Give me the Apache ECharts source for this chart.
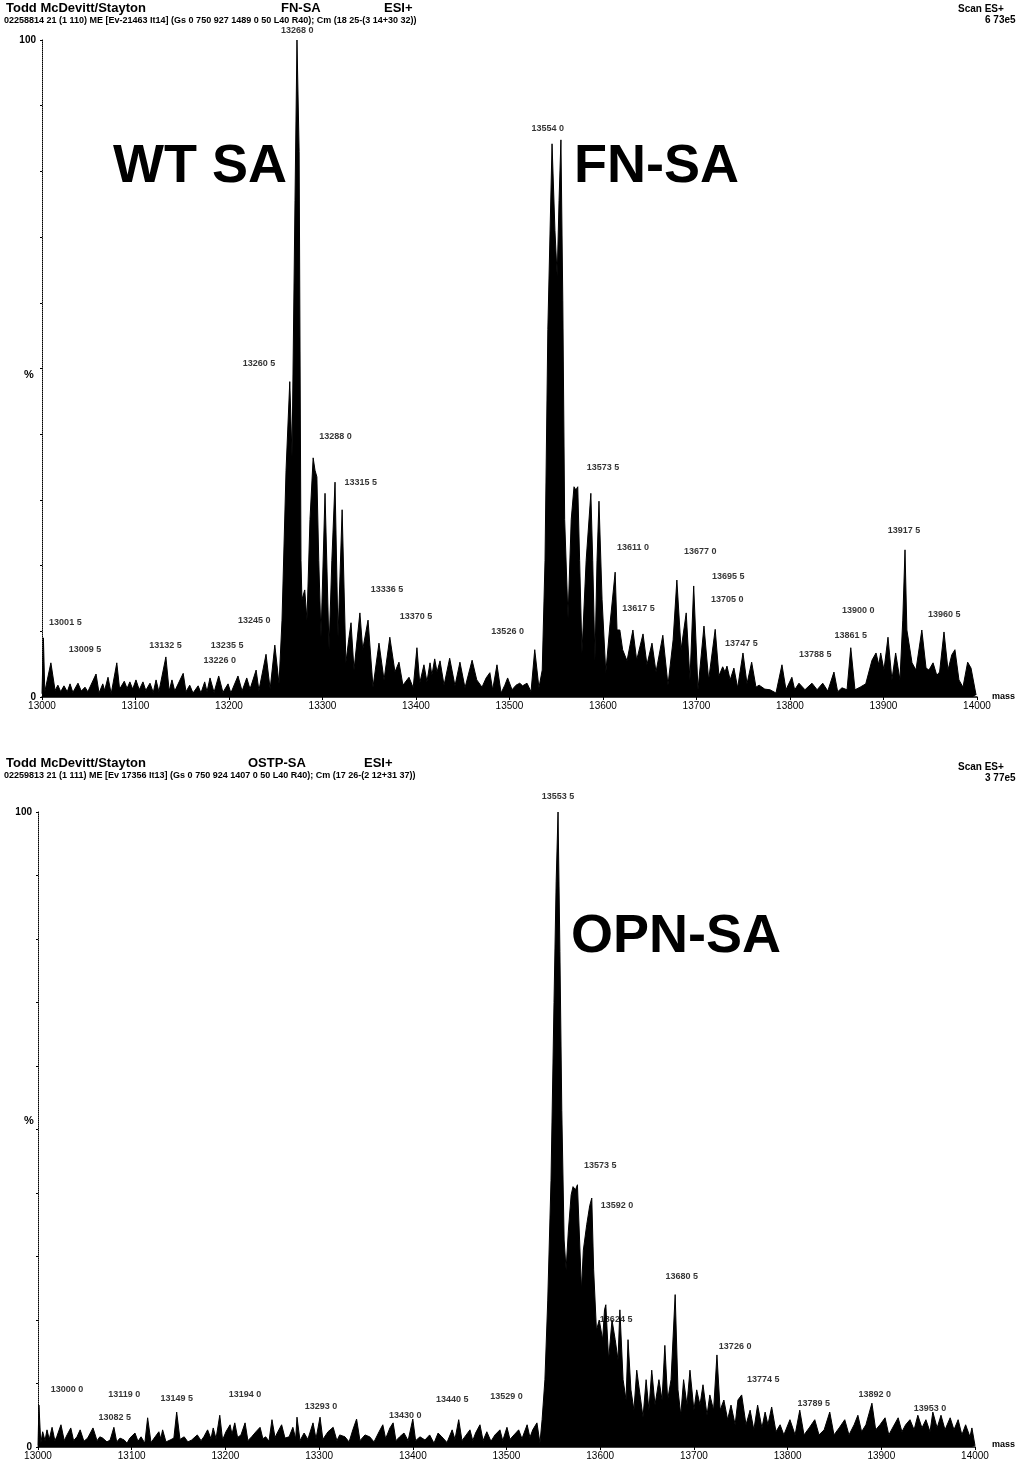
<!DOCTYPE html>
<html>
<head>
<meta charset="utf-8">
<script src="https://cdn.jsdelivr.net/npm/echarts@6/dist/echarts.min.js"></script>
<style>
  html, body { margin: 0; padding: 0; background: #fff; }
  #chart { width: 1026px; height: 1466px; }
</style>
</head>
<body>
<div id="chart"></div>
<script>
// x axis ticks (mass)
const massTicks = [13000, 13100, 13200, 13300, 13400, 13500, 13600, 13700, 13800, 13900, 14000];

// top spectrum: WT SA / FN-SA (mass, % intensity)
const topMass = [
  13000, 13001.5, 13003, 13009.5, 13014, 13017, 13020, 13023.5, 13027, 13030, 13033, 13038.5, 13042, 13046, 13049,
  13057.8, 13061, 13065, 13067, 13070.6, 13074, 13080, 13083, 13088, 13091, 13094, 13097, 13100.5, 13104, 13108,
  13111, 13115.5, 13119, 13122, 13125, 13132.5, 13136, 13139, 13142, 13151, 13154, 13158, 13161.5, 13167, 13170,
  13174, 13176.5, 13179.7, 13184, 13189, 13193.5, 13199, 13202, 13209.6, 13214, 13219, 13222.5, 13229, 13232,
  13239.6, 13244, 13249, 13253.5,
  13256.7, 13261, 13265, 13267.4, 13270.6, 13272.7, 13275, 13277, 13278, 13281, 13283.4, 13286.6, 13290, 13292,
  13294, 13296, 13298.4, 13302.7, 13307, 13310, 13313.4, 13316.6, 13321, 13325, 13328, 13330.5, 13333.7, 13337,
  13340, 13343, 13348.7, 13354, 13360.4, 13365.8, 13372, 13377.5, 13381.8, 13386, 13392.5, 13397, 13401, 13404,
  13408.5, 13411.7, 13415, 13417, 13420, 13422.5, 13425.7, 13430, 13436, 13441.7, 13447, 13452.4, 13460, 13465,
  13470.6, 13475, 13479, 13482, 13486.6, 13491, 13495, 13498, 13502.7, 13507, 13511, 13514, 13518.7, 13523, 13527,
  13531.5, 13535,
  13538, 13541, 13545.5, 13548.6, 13551, 13553, 13555, 13557, 13559, 13562.6, 13566, 13569, 13571, 13573, 13575,
  13577.5, 13582, 13587, 13589, 13591.4, 13593.6, 13595.7, 13599, 13603, 13607.5, 13613, 13615, 13618, 13621,
  13625.7, 13632, 13636, 13642.8, 13647, 13652.4, 13656.7, 13664, 13669.5, 13675, 13679, 13683.5, 13689, 13693,
  13697, 13701.6, 13708, 13713, 13720, 13724, 13728, 13730.5, 13732.6, 13736, 13740, 13744, 13749.7, 13754, 13759,
  13763.6, 13767, 13773, 13778.6, 13785, 13791.4, 13795.7, 13802, 13805, 13809.6, 13816, 13823.5, 13829, 13835,
  13840.4, 13847, 13851, 13855.6, 13861, 13865, 13869.5, 13875, 13881, 13887.7, 13892, 13895, 13897, 13900.5,
  13904.8, 13909, 13913, 13917.6, 13920.6, 13923, 13925, 13930.5, 13934.7, 13941, 13945.5, 13948.6, 13953, 13957,
  13960, 13964.7, 13969, 13973, 13976.4, 13980.7, 13985, 13990, 13993.6, 13995.7, 13999
];
const topPct = [
  0.5, 9.0, 0.8, 5.2, 1.0, 1.8, 0.8, 1.7, 0.8, 2.0, 0.7, 2.1, 0.9, 1.5, 0.8,
  3.5, 0.6, 2.0, 1.0, 3.0, 0.5, 5.2, 1.2, 2.4, 1.3, 2.3, 1.2, 2.6, 1.1, 2.3,
  1.0, 2.1, 0.7, 2.6, 0.8, 6.1, 0.9, 2.6, 0.9, 3.6, 0.8, 1.8, 0.6, 1.7, 0.6,
  2.3, 0.8, 2.9, 0.7, 3.2, 0.7, 2.0, 0.6, 3.2, 0.9, 2.9, 1.2, 4.1, 1.0,
  6.5, 1.2, 7.9, 2.0,
  11.7, 34.5, 48, 36.5, 75.6, 100, 83, 20.8, 14.8, 16.3, 11.7, 27, 36.4, 34.5,
  33.5, 20.8, 9.1, 31, 7.2, 20.8, 32.7, 9.1, 28.5, 5.2, 8.7, 11.3, 4.1, 8.7,
  12.8, 7.2, 11.7, 1.5, 8.2, 2.6, 9.1, 3.8, 5.3, 1.8, 3.0, 1.4, 7.5, 2.1,
  4.9, 2.3, 5.2, 3.3, 5.8, 3.8, 5.5, 1.8, 5.9, 1.7, 5.3, 1.4, 5.6, 2.6,
  1.5, 2.9, 3.7, 1.1, 4.9, 0.6, 1.8, 2.9, 1.1, 1.8, 2.1, 1.7, 2.1, 0.8, 7.2,
  1.4, 4.1,
  20.8, 55.9, 84.2, 71, 64, 75.6, 84.8, 60.4, 27, 12, 27, 32, 31.5, 32, 20.8,
  6.7, 20.8, 31, 20.8, 5.5, 20.8, 29.8, 14.8, 3.7, 11.1, 19, 10.2, 10.2, 7.2,
  5.5, 10.2, 5.6, 9.6, 4.9, 8.2, 3.8, 9.4, 1.8, 8.7, 17.8, 7.2, 12.8, 2.6,
  16.9, 1.1, 10.8, 2.6, 10.3, 3.2, 4.6, 3.8, 4.7, 2.6, 4.4, 1.4, 6.7, 2.0, 5.3,
  1.5, 1.8, 1.2, 1.1, 0.6, 4.9, 1.1, 3.0, 1.1, 2.1, 1.1, 2.1, 1.1, 2.1,
  0.9, 3.8, 0.8, 1.4, 1.1, 7.5, 1.1, 1.5, 2.0, 5.6, 6.7, 4.9, 6.7, 4.1,
  9.1, 2.6, 6.7, 2.6, 11.7, 22.4, 10.2, 5.2, 4.1, 10.2, 4.4, 4.1, 5.2, 3.3,
  3.8, 9.9, 4.1, 6.4, 7.2, 2.6, 1.5, 5.3, 4.4, 4.6, 0.3
];

// bottom spectrum: OPN-SA (mass, % intensity)
const botMass = [
  13000, 13001, 13003, 13005, 13007.5, 13009.6, 13012, 13015, 13018, 13020, 13024.5, 13028, 13031, 13035, 13038,
  13041.6, 13045, 13049, 13053, 13058.7, 13063, 13066, 13069, 13073.6, 13077, 13081, 13084, 13087.5, 13092, 13095,
  13098, 13103.5, 13106.7, 13110, 13114, 13117, 13120.6, 13125, 13129, 13131, 13133, 13136.6, 13141, 13145, 13148,
  13151.5, 13156, 13160, 13164, 13170, 13174, 13177, 13181, 13184.6, 13187, 13190, 13194, 13197, 13200.6, 13205,
  13207, 13210, 13213, 13216.6, 13221, 13224, 13228, 13232.6, 13237, 13240, 13243, 13246.5, 13249.7, 13253, 13256,
  13260, 13263.6, 13268, 13272, 13275, 13276.4, 13279.6, 13284, 13288, 13293.5, 13296.7, 13301, 13304, 13309.5,
  13315, 13319, 13322, 13327.6, 13332, 13336, 13340, 13343.6, 13349, 13354, 13358.6, 13364, 13368, 13371, 13375.6,
  13379, 13382, 13386, 13390.6, 13395, 13400, 13403, 13407.7, 13413, 13418, 13422.6, 13427, 13431, 13436.5, 13442,
  13445, 13449, 13452.5, 13457, 13461, 13464, 13467, 13471.7, 13475, 13479, 13483.4, 13487.7, 13493, 13496, 13500.5,
  13503.7, 13508, 13513, 13516.5, 13522, 13525, 13528, 13532.5, 13535.7,
  13538, 13541, 13544, 13547.5, 13550.7, 13553, 13555, 13557, 13559, 13561.5, 13563.6, 13566, 13569, 13571, 13573.6,
  13575.7, 13578, 13580, 13582, 13585.6, 13588.8, 13591, 13593, 13596, 13599, 13602.6, 13604.6, 13606, 13609,
  13612.6, 13616, 13619, 13621, 13624.4, 13627.6, 13629.7, 13632.8, 13636, 13639, 13642.5, 13645.7, 13649, 13652,
  13655, 13658.5, 13662.7, 13666, 13669, 13672, 13675.6, 13680, 13683, 13686, 13689, 13692.6, 13695.8, 13700,
  13703, 13706.5, 13709.7, 13714, 13717, 13721, 13724.6, 13728, 13732, 13736, 13739.6, 13744, 13747, 13751,
  13755.6, 13760, 13764, 13768, 13772.6, 13776, 13779, 13783, 13787.6, 13792, 13796, 13802.5, 13808, 13813,
  13817.5, 13823, 13829, 13833.5, 13839, 13845, 13849.5, 13855, 13861, 13865.5, 13871, 13875, 13879, 13883.6,
  13890, 13894, 13898.6, 13904, 13908, 13912, 13918, 13922, 13926, 13930.6, 13935, 13939, 13943.4, 13947.6,
  13952, 13955, 13959.6, 13963.7, 13968, 13973.5, 13977.6, 13982, 13986, 13990, 13994.6, 13996.7, 14000
];
const botPct = [
  0.2, 6.6, 0.6, 2.4, 1.0, 2.7, 1.2, 3.1, 1.0, 1.6, 3.5, 1.0, 1.9, 3.0, 1.0,
  1.6, 2.7, 0.9, 1.4, 3.0, 1.0, 1.6, 1.4, 0.8, 1.1, 3.1, 0.8, 1.4, 1.1, 0.6,
  1.4, 2.2, 0.9, 1.6, 0.6, 4.6, 0.7, 1.6, 2.4, 1.3, 2.7, 0.8, 1.1, 1.4, 5.5,
  1.2, 1.6, 0.8, 1.1, 1.9, 1.0, 1.6, 2.7, 1.3, 3.0, 1.3, 5.0, 1.1, 2.4, 3.5,
  2.0, 3.8, 1.5, 1.9, 3.8, 1.0, 1.6, 2.4, 3.1, 1.3, 1.6, 0.9, 4.3, 1.5, 2.4,
  3.5, 1.4, 1.6, 3.1, 1.3, 4.7, 1.0, 2.2, 1.2, 3.8, 1.3, 4.7, 1.2, 2.4,
  3.1, 1.0, 1.9, 1.6, 0.8, 2.7, 4.4, 1.0, 1.9, 1.6, 0.8, 2.4, 3.5, 1.3, 3.0,
  3.8, 1.0, 1.6, 2.2, 1.0, 4.4, 1.0, 1.6, 1.1, 1.9, 0.6, 2.2, 1.6, 0.7, 2.7,
  1.2, 4.3, 1.0, 1.9, 2.7, 1.0, 2.2, 3.5, 1.0, 2.4, 0.9, 1.9, 2.7, 1.0, 3.1,
  1.2, 1.9, 2.7, 1.3, 3.5, 1.5, 2.7, 3.8, 0.6,
  4.3, 10.6, 23, 42, 70, 89, 100, 78, 53, 32.6, 27.9, 34, 39.7, 41, 40.5,
  41.3, 32.6, 24.7, 31, 35, 38, 39.2, 27.9, 18.4, 20, 16.9, 21.6, 22.4, 13.7,
  20, 16.9, 13.7, 21.6, 10.6, 7.4, 16.9, 9.0, 5.8, 12.1, 8.2, 4.7, 10.6, 5.8,
  12.1, 6.6, 10.6, 7.4, 16, 7.4, 10.6, 24, 9.0, 5.0, 10.6, 6.6, 12.1, 5.8,
  9.0, 6.6, 9.8, 5.0, 8.2, 5.8, 14.5, 5.8, 7.4, 4.3, 6.6, 3.5, 7.4, 8.2,
  3.5, 5.8, 2.7, 6.6, 3.0, 5.5, 3.5, 6.3, 2.4, 3.5, 1.9, 4.3, 1.9, 5.8,
  1.9, 3.0, 4.3, 1.9, 2.7, 5.5, 1.9, 3.0, 4.3, 1.9, 3.5, 5.0, 2.4, 3.5,
  6.9, 2.7, 3.5, 4.6, 1.9, 3.0, 4.6, 2.4, 3.5, 4.3, 2.7, 5.0, 3.0, 4.3,
  2.4, 5.5, 3.0, 5.0, 2.7, 4.6, 2.7, 4.3, 1.9, 3.5, 1.6, 3.0, 0.2
];

// peak annotations (mass, % at label centre, text)
const topLabelMass = [13273, 13232, 13314, 13341, 13369, 13400, 13227, 13198, 13190, 13132, 13046, 13025,
  13498, 13541, 13600, 13632, 13638, 13704, 13734, 13733, 13748, 13827, 13865, 13873, 13922, 13965];
const topLabelPct = [101.5, 50.8, 39.7, 32.7, 16.3, 12.2, 11.7, 7.9, 5.5, 7.9, 7.2, 11.3,
  9.9, 86.6, 35, 22.7, 13.5, 22.1, 18.4, 14.8, 8.2, 6.5, 9.3, 13.1, 25.4, 12.6];
const topLabelText = ['13268 0', '13260 5', '13288 0', '13315 5', '13336 5', '13370 5', '13245 0', '13235 5',
  '13226 0', '13132 5', '13009 5', '13001 5', '13526 0', '13554 0', '13573 5', '13611 0', '13617 5', '13677 0',
  '13695 5', '13705 0', '13747 5', '13788 5', '13861 5', '13900 0', '13917 5', '13960 5'];

const botLabelMass = [13555, 13600, 13618, 13687, 13617, 13744, 13774, 13828, 13893, 13952,
  13031, 13082, 13092, 13148, 13221, 13302, 13392, 13442, 13500];
const botLabelPct = [102.5, 44.4, 38.1, 26.9, 20, 15.9, 10.6, 6.9, 8.2, 6.1,
  9, 4.6, 8.3, 7.7, 8.3, 6.3, 5, 7.4, 7.9];
const botLabelText = ['13553 5', '13573 5', '13592 0', '13680 5', '13624 5', '13726 0', '13774 5', '13789 5',
  '13892 0', '13953 0', '13000 0', '13082 5', '13119 0', '13149 5', '13194 0', '13293 0', '13430 0', '13440 5',
  '13529 0'];

const chart = echarts.init(document.getElementById('chart'));

const FONT = 'Liberation Sans';

// 坐标轴公共配置
const xAxisBase = (gridIndex) => ({
  type: 'value',
  gridIndex: gridIndex,
  min: massTicks[0],
  max: massTicks[massTicks.length - 1],
  interval: 100,
  axisLine: { lineStyle: { color: '#000', width: 1.5 } },
  axisTick: { length: 3, lineStyle: { color: '#000' } },
  axisLabel: {
    color: '#000', fontSize: 10, fontFamily: FONT, margin: 4,
    formatter: v => massTicks.includes(v) ? String(v) : ''
  },
  splitLine: { show: false }
});

const yAxisBase = (gridIndex) => ({
  type: 'value',
  gridIndex: gridIndex,
  min: 0,
  max: 100,
  interval: 10,
  axisLine: { show: true, lineStyle: { color: '#000', type: 'dotted', width: 1 } },
  axisTick: { show: true, length: 2, lineStyle: { color: '#000' } },
  axisLabel: {
    color: '#000', fontSize: 10, fontFamily: FONT, fontWeight: 'bold', margin: 6,
    formatter: v => (v === 0 || v === 100) ? String(v) : ''
  },
  splitLine: { show: false }
});

const spectrum = (idx, mass, pct) => ({
  type: 'line',
  xAxisIndex: idx,
  yAxisIndex: idx,
  data: mass.map((m, i) => [m, pct[i]]),
  symbol: 'none',
  smooth: false,
  lineStyle: { color: '#000', width: 1 },
  areaStyle: { color: '#000', opacity: 1 },
  silent: true
});

const annotations = (idx, mass, pct, text) => ({
  type: 'scatter',
  xAxisIndex: idx,
  yAxisIndex: idx,
  data: mass.map((m, i) => [m, pct[i]]),
  symbolSize: 0,
  clip: false,
  label: {
    show: true,
    position: 'inside',
    color: '#000',
    fontSize: 9,
    fontWeight: 'bold',
    fontFamily: FONT,
    formatter: p => text[p.dataIndex]
  },
  silent: true
});

const txt = (left, top, text, size, weight, align) => ({
  type: 'text',
  left: left,
  top: top,
  style: {
    text: text,
    fontSize: size,
    fontWeight: weight || 'normal',
    fontFamily: FONT,
    fill: '#000',
    textAlign: align || 'left'
  }
});

const option = {
  backgroundColor: '#fff',
  animation: false,
  grid: [
    { left: 42, right: 49, top: 40, bottom: 769 },
    { left: 38, right: 51, top: 812, bottom: 19 }
  ],
  xAxis: [xAxisBase(0), xAxisBase(1)],
  yAxis: [yAxisBase(0), yAxisBase(1)],
  series: [
    spectrum(0, topMass, topPct),
    spectrum(1, botMass, botPct),
    annotations(0, topLabelMass, topLabelPct, topLabelText),
    annotations(1, botLabelMass, botLabelPct, botLabelText)
  ],
  graphic: [
    // top header
    txt(6, 2, 'Todd McDevitt/Stayton', 13, 'bold'),
    txt(281, 2, 'FN-SA', 13, 'bold'),
    txt(384, 2, 'ESI+', 13, 'bold'),
    txt(4, 16, '02258814 21 (1 110) ME [Ev-21463 It14] (Gs 0 750 927 1489 0 50 L40 R40); Cm (18 25-(3 14+30 32))', 9, 'bold'),
    txt(958, 4, 'Scan ES+', 10, 'bold'),
    txt(985, 15, '6 73e5', 10, 'bold'),
    txt(24, 369, '%', 11, 'bold'),
    txt(992, 692, 'mass', 9, 'bold'),
    txt(113, 140, 'WT SA', 54, '900'),
    txt(574, 140, 'FN-SA', 54, '900'),
    // bottom header
    txt(6, 757, 'Todd McDevitt/Stayton', 13, 'bold'),
    txt(248, 757, 'OSTP-SA', 13, 'bold'),
    txt(364, 757, 'ESI+', 13, 'bold'),
    txt(4, 771, '02259813 21 (1 111) ME [Ev 17356 It13] (Gs 0 750 924 1407 0 50 L40 R40); Cm (17 26-(2 12+31 37))', 9, 'bold'),
    txt(958, 762, 'Scan ES+', 10, 'bold'),
    txt(985, 773, '3 77e5', 10, 'bold'),
    txt(24, 1115, '%', 11, 'bold'),
    txt(992, 1440, 'mass', 9, 'bold'),
    txt(571, 910, 'OPN-SA', 54, '900')
  ]
};

chart.setOption(option);
</script>
</body>
</html>
